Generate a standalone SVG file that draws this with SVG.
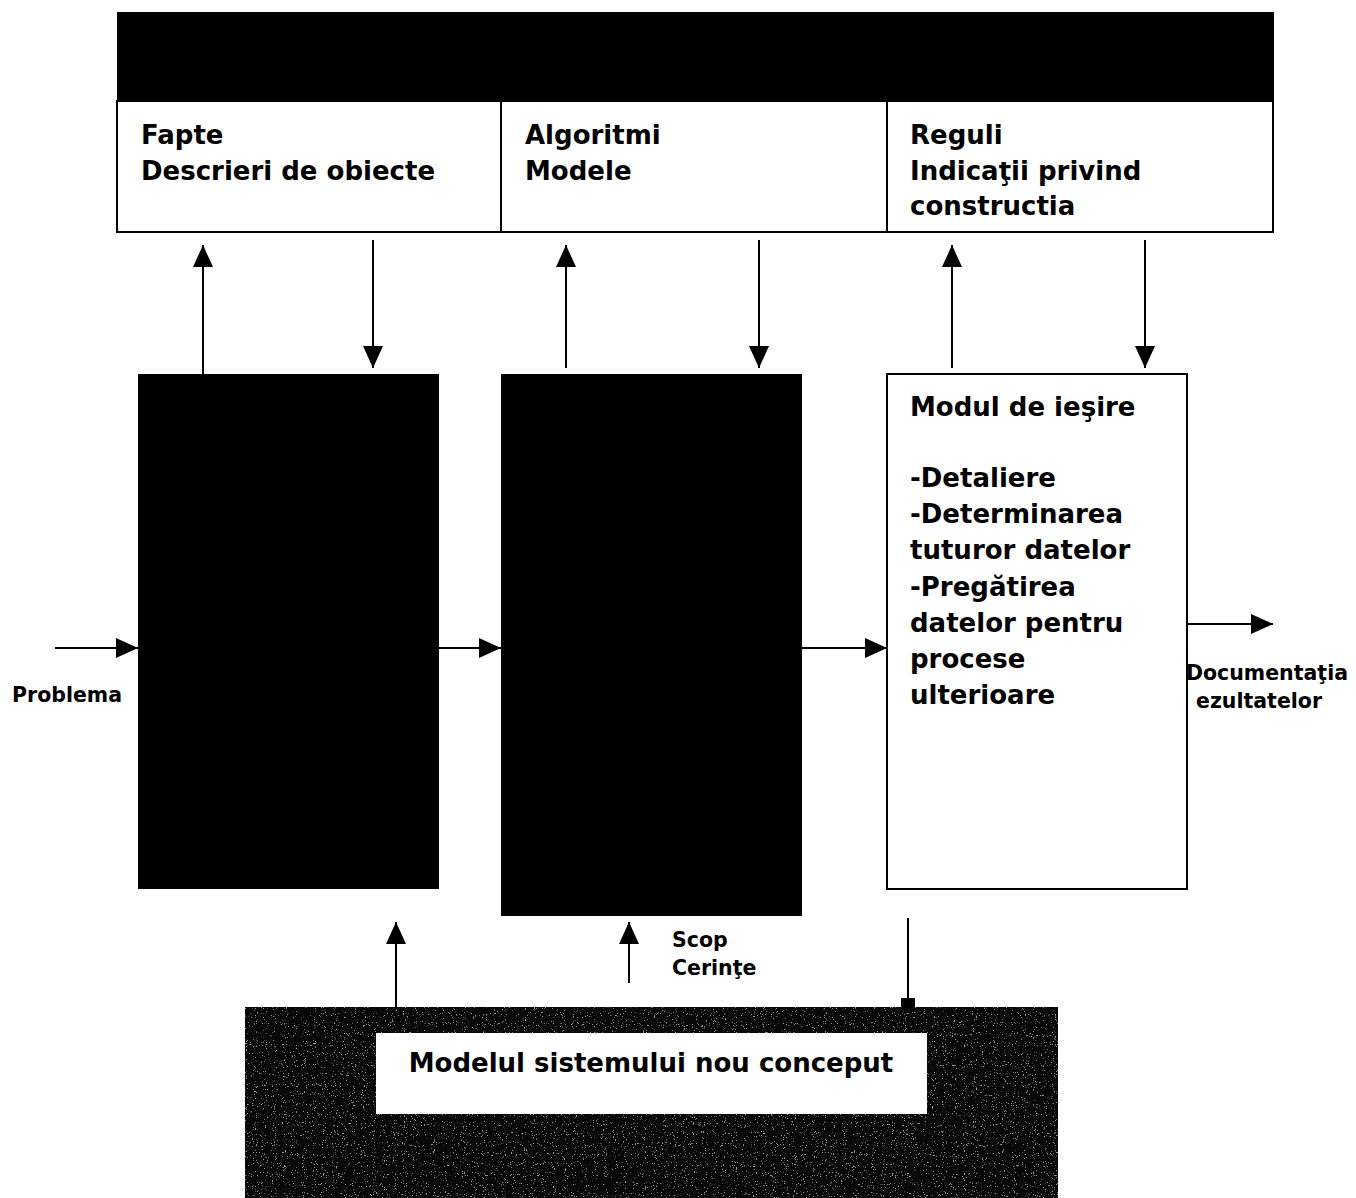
<svg xmlns="http://www.w3.org/2000/svg" width="1356" height="1198" viewBox="0 0 1356 1198">
  <style>
    .t { font-family: "DejaVu Sans", Verdana, sans-serif; font-weight: bold; fill: #000; }
    .big { font-size: 26px; }
    .small { font-size: 20.5px; }
    .line { stroke: #000; stroke-width: 2; fill: none; }
    .box { fill: #fff; stroke: #000; stroke-width: 2; }
    .solid { fill: #000; }
  </style>
  <defs>
    <marker id="arrow" viewBox="0 0 22 20" refX="22" refY="10" markerWidth="22" markerHeight="20" markerUnits="userSpaceOnUse" orient="auto">
      <path d="M0,0 L22,10 L0,20 Z" fill="#000"/>
    </marker>
    <marker id="stub" viewBox="0 0 10 14" refX="5" refY="7" markerWidth="10" markerHeight="14" markerUnits="userSpaceOnUse" orient="auto">
      <rect x="0" y="0" width="10" height="14" fill="#000"/>
    </marker>
    <filter id="speckle" x="0" y="0" width="100%" height="100%">
      <feTurbulence type="fractalNoise" baseFrequency="0.9" numOctaves="2" seed="4" result="n"/>
      <feColorMatrix in="n" type="matrix" values="0 0 0 0 1  0 0 0 0 1  0 0 0 0 1  0 0 0 12 -7.8" result="dots"/>
      <feComposite in="dots" in2="SourceGraphic" operator="in"/>
    </filter>
  </defs>

  <!-- knowledge base header -->
  <g id="kb-header">
    <rect x="117" y="12" width="1157" height="89" class="solid"/>
  </g>
  <g id="kb-facts">
    <rect x="117" y="101" width="384" height="131" class="box"/>
    <text class="t big" x="141" y="144">Fapte</text>
    <text class="t big" x="141" y="180">Descrieri de obiecte</text>
  </g>
  <g id="kb-algorithms">
    <rect x="501" y="101" width="386" height="131" class="box"/>
    <text class="t big" x="525" y="144">Algoritmi</text>
    <text class="t big" x="525" y="180">Modele</text>
  </g>
  <g id="kb-rules">
    <rect x="887" y="101" width="386" height="131" class="box"/>
    <text class="t big" x="910" y="144">Reguli</text>
    <text class="t big" x="910" y="180">Indicaţii privind</text>
    <text class="t big" x="910" y="215">constructia</text>
  </g>

  <!-- processing modules -->
  <g id="module-1">
    <rect x="138" y="374" width="301" height="515" class="solid"/>
  </g>
  <g id="module-2">
    <rect x="501" y="374" width="301" height="542" class="solid"/>
  </g>
  <g id="module-output">
    <rect x="887" y="374" width="300" height="515" class="box"/>
    <text class="t big" x="910" y="416">Modul de ieşire</text>
    <text class="t big" x="910" y="487">-Detaliere</text>
    <text class="t big" x="910" y="523">-Determinarea</text>
    <text class="t big" x="910" y="559">tuturor datelor</text>
    <text class="t big" x="910" y="596">-Pregătirea</text>
    <text class="t big" x="910" y="632">datelor pentru</text>
    <text class="t big" x="910" y="668">procese</text>
    <text class="t big" x="910" y="704">ulterioare</text>
  </g>

  <!-- system model -->
  <g id="system-model">
    <rect x="245" y="1007" width="813" height="191" fill="#080808"/>
    <rect x="245" y="1007" width="813" height="191" fill="#080808" filter="url(#speckle)" opacity="0.6"/>
    <rect x="376" y="1033" width="551" height="81" fill="#fff"/>
    <text class="t" font-size="26" x="651" y="1072" text-anchor="middle">Modelul sistemului nou conceput</text>
  </g>

  <!-- labels -->
  <g id="labels">
    <text class="t small" x="12" y="702">Problema</text>
    <text class="t small" x="1186" y="680">Documentaţia</text>
    <text class="t small" x="1196" y="708">ezultatelor</text>
    <text class="t small" x="672" y="947">Scop</text>
    <text class="t small" x="672" y="975">Cerinţe</text>
  </g>

  <!-- connectors -->
  <g id="connectors">
    <line class="line" x1="203" y1="374" x2="203" y2="245" marker-end="url(#arrow)"/>
    <line class="line" x1="373" y1="240" x2="373" y2="368" marker-end="url(#arrow)"/>
    <line class="line" x1="566" y1="368" x2="566" y2="245" marker-end="url(#arrow)"/>
    <line class="line" x1="759" y1="240" x2="759" y2="368" marker-end="url(#arrow)"/>
    <line class="line" x1="952" y1="368" x2="952" y2="245" marker-end="url(#arrow)"/>
    <line class="line" x1="1145" y1="240" x2="1145" y2="368" marker-end="url(#arrow)"/>

    <line class="line" x1="55" y1="648" x2="138" y2="648" marker-end="url(#arrow)"/>
    <line class="line" x1="439" y1="648" x2="501" y2="648" marker-end="url(#arrow)"/>
    <line class="line" x1="802" y1="648" x2="887" y2="648" marker-end="url(#arrow)"/>
    <line class="line" x1="1187" y1="624" x2="1273" y2="624" marker-end="url(#arrow)"/>

    <line class="line" x1="396" y1="1007" x2="396" y2="922" marker-end="url(#arrow)"/>
    <line class="line" x1="629" y1="983" x2="629" y2="922" marker-end="url(#arrow)"/>
    <line class="line" x1="908" y1="918" x2="908" y2="1003" marker-end="url(#stub)"/>
  </g>
</svg>
